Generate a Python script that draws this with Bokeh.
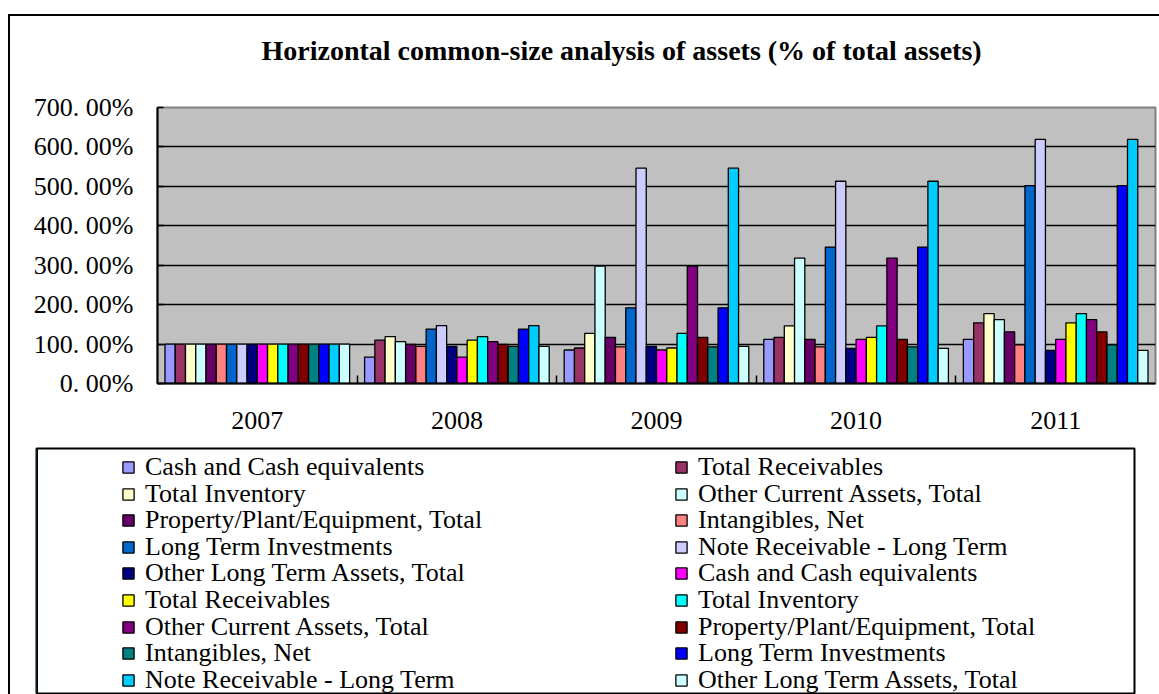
from bokeh.plotting import figure
from bokeh.models import ColumnDataSource, FixedTicker, Legend, LegendItem, Range1d
from bokeh.layouts import column, row
from bokeh.embed import file_html
from bokeh.resources import INLINE

# ---------------- data ----------------
years = ["2007", "2008", "2009", "2010", "2011"]

series_names = [
    "Cash and Cash equivalents", "Total Receivables", "Total Inventory",
    "Other Current Assets, Total", "Property/Plant/Equipment, Total", "Intangibles, Net",
    "Long Term Investments", "Note Receivable - Long Term", "Other Long Term Assets, Total",
    "Cash and Cash equivalents", "Total Receivables", "Total Inventory",
    "Other Current Assets, Total", "Property/Plant/Equipment, Total", "Intangibles, Net",
    "Long Term Investments", "Note Receivable - Long Term", "Other Long Term Assets, Total",
]
series_colors = [
    "#9999FF", "#993366", "#FFFFCC", "#CCFFFF", "#660066", "#FF8080",
    "#0066CC", "#CCCCFF", "#000080", "#FF00FF", "#FFFF00", "#00FFFF",
    "#800080", "#800000", "#008080", "#0000FF", "#00CCFF", "#CCFFFF",
]

# values in % (2007 .. 2011)
cash_a      = [100, 67, 85, 112, 112]
recv_a      = [100, 110, 90, 117, 154]
inv_a       = [100, 119, 127, 146, 177]
oca_a       = [100, 106, 298, 318, 162]
ppe_a       = [100, 99, 117, 112, 131]
intang_a    = [100, 94, 93, 93, 98]
lti_a       = [100, 138, 192, 346, 502]
note_a      = [100, 147, 546, 513, 619]
olta_a      = [100, 94, 94, 89, 84]
cash_b      = [100, 67, 85, 112, 112]
recv_b      = [100, 110, 90, 117, 154]
inv_b       = [100, 119, 127, 146, 177]
oca_b       = [100, 106, 298, 318, 162]
ppe_b       = [100, 99, 117, 112, 131]
intang_b    = [100, 94, 93, 93, 98]
lti_b       = [100, 138, 192, 346, 502]
note_b      = [100, 147, 546, 513, 619]
olta_b      = [100, 94, 94, 89, 84]

series_values = [cash_a, recv_a, inv_a, oca_a, ppe_a, intang_a, lti_a, note_a, olta_a,
                 cash_b, recv_b, inv_b, oca_b, ppe_b, intang_b, lti_b, note_b, olta_b]

y_ticks = [0, 100, 200, 300, 400, 500, 600, 700]
y_tick_labels = ["0. 00%", "100. 00%", "200. 00%", "300. 00%",
                 "400. 00%", "500. 00%", "600. 00%", "700. 00%"]

title_text = "Horizontal common-size analysis of assets (% of total assets)"

# ---------------- styling ----------------
FONT = "Liberation Serif"
W = 1149
n = len(series_names)
group_width = 0.925
bar_w = group_width / n
centers = [i + 0.5 for i in range(len(years))]
boundaries = [i for i in range(1, len(years))]

# --- title strip ---
tf = figure(width=W, height=58, output_backend="svg", toolbar_location=None,
            x_axis_location=None, y_axis_location=None,
            x_range=Range1d(0, 1), y_range=Range1d(0, 1),
            min_border_left=147, min_border_right=4, min_border_top=57, min_border_bottom=0,
            outline_line_color=None, background_fill_color="white",
            border_fill_color="white")
tf.grid.visible = False
tf.title.text = title_text
tf.title.text_font = FONT
tf.title.text_font_size = "28px"
tf.title.text_font_style = "bold"
tf.title.text_color = "black"
tf.title.align = "left"
tf.title.offset = 104
tf.title.standoff = 16

# --- chart ---
p = figure(width=W, height=373,
           x_range=Range1d(0, len(years)), y_range=Range1d(y_ticks[0], y_ticks[-1]),
           output_backend="svg", toolbar_location=None,
           min_border_left=147, min_border_right=4, min_border_top=33, min_border_bottom=64,
           background_fill_color="#C0C0C0", border_fill_color="white",
           outline_line_color="#808080", outline_line_width=2)

sources = []
for j in range(n):
    off = (j - (n - 1) / 2) * bar_w
    src = ColumnDataSource(dict(x=[c + off for c in centers], top=series_values[j]))
    sources.append(src)
    p.vbar(x="x", top="top", width=bar_w, source=src,
           fill_color=series_colors[j], line_color="black", line_width=1.3)

xa = p.xaxis[0]
xa.ticker = FixedTicker(ticks=centers, minor_ticks=boundaries)
xa.major_label_overrides = {c: y for c, y in zip(centers, years)}
xa.major_tick_line_color = None
xa.major_tick_in = 0
xa.major_tick_out = 0
xa.minor_tick_in = 8
xa.minor_tick_out = 0
xa.minor_tick_line_color = "black"
xa.minor_tick_line_width = 1.5
xa.axis_line_color = "black"
xa.axis_line_width = 2
xa.major_label_text_font = FONT
xa.major_label_text_font_size = "26px"
xa.major_label_text_color = "black"
xa.major_label_standoff = 28

ya = p.yaxis[0]
ya.ticker = FixedTicker(ticks=y_ticks)
ya.major_label_overrides = {t: l for t, l in zip(y_ticks, y_tick_labels)}
ya.major_tick_in = 6
ya.major_tick_out = 0
ya.major_tick_line_width = 1.5
ya.minor_tick_line_color = None
ya.axis_line_color = "black"
ya.axis_line_width = 2
ya.major_label_text_font = FONT
ya.major_label_text_font_size = "26px"
ya.major_label_text_color = "black"
ya.major_label_standoff = 24

p.xgrid.visible = False
p.ygrid.ticker = FixedTicker(ticks=y_ticks[1:-1])
p.ygrid.grid_line_color = "black"
p.ygrid.grid_line_width = 1.5

# --- legend panel ---
LH = 247
lf = figure(width=W, height=LH,
            x_range=Range1d(100, 101), y_range=Range1d(100, 101),
            output_backend="svg", toolbar_location=None,
            x_axis_location=None, y_axis_location=None,
            min_border_left=26, min_border_right=25, min_border_top=1, min_border_bottom=0,
            outline_line_color="black", outline_line_width=2,
            background_fill_color="white", border_fill_color="white")
lf.grid.visible = False

leg_renderers = []
for j in range(n):
    r = lf.vbar(x="x", top="top", width=bar_w, source=sources[j],
                fill_color=series_colors[j], line_color="black", line_width=1.3)
    leg_renderers.append(r)

row_pitch = 26.6
first_row_from_bottom = 227 - 15     # bottom of first legend row above frame bottom
col_x = [85, 638]
for j in range(n):
    k = j // 2
    lg = Legend(items=[LegendItem(label=series_names[j], renderers=[leg_renderers[j]])],
                location=(col_x[j % 2], first_row_from_bottom - k * row_pitch),
                orientation="vertical", padding=0, margin=0, spacing=0,
                glyph_width=14, glyph_height=14, label_standoff=10,
                label_text_font=FONT, label_text_font_size="26px",
                label_text_color="black",
                border_line_color=None, background_fill_alpha=0)
    lf.add_layout(lg, "center")

layout = column(tf, p, row(lf), styles={"margin-left": "8px", "margin-top": "14px",
                                        "border-left": "2px solid black",
                                        "border-top": "2px solid black"})

open("out.html", "w").write(file_html(layout, INLINE))
